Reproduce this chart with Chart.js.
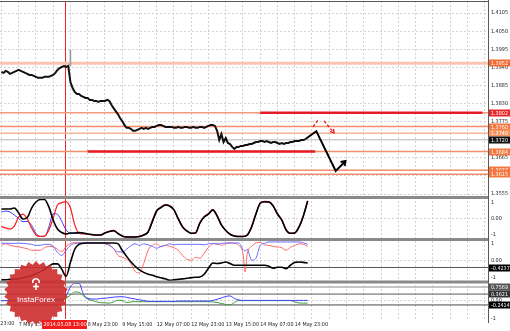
<!DOCTYPE html>
<html><head><meta charset="utf-8">
<script src="https://cdn.jsdelivr.net/npm/chart.js@4.4.1/dist/chart.umd.min.js"></script>
<style>html,body{margin:0;padding:0;background:#fff;overflow:hidden}#wrap{position:relative;width:510px;height:331px}</style>
</head><body><div id="wrap"><canvas id="c" width="510" height="331"></canvas></div>
<script>
// ---------- DATA ----------
const tickBars = [-8, 8, 24, 40, 56, 72, 88, 104, 120, 136];
const tickLabels = ['6 May 23:00', '7 May 15:00', '8 May 07:00', '8 May 23:00', '9 May 15:00', '12 May 07:00', '12 May 23:00', '13 May 15:00', '14 May 07:00', '14 May 23:00'];
const gridBars = [0, 8, 16, 24, 32, 40, 48, 56, 64, 72, 80, 88, 96, 104, 112, 120, 128, 136, 144, 152, 160, 168, 176, 184, 192, 200, 208, 216, 224];
const markerBar = 30;
const markerLabel = '2014.05.08 13:00';
const priceTicks = [1.3555, 1.3610, 1.3665, 1.3720, 1.3775, 1.3830, 1.3885, 1.3940, 1.3995, 1.4050, 1.4105];

const priceClose = [
 1.3926,1.3923,1.3929,1.3926,1.3920,1.3923,1.3926,1.3929,1.3932,
 1.3929,1.3926,1.3923,1.3920,1.3917,1.3917,1.3914,1.3911,1.3908,1.3908,1.3908,1.3911,
 1.3911,1.3911,1.3914,1.3917,1.3923,1.3932,1.3938,1.3941,1.3944,1.3941,1.3944,
 1.3895,
 1.3877,1.3865,1.3859,1.3859,1.3853,1.3850,1.3847,1.3847,1.3841,1.3841,1.3838,1.3838,1.3835,1.3838,1.3838,1.3838,1.3841,1.3838,
 1.3826,1.3816,1.3807,1.3798,1.3786,1.3777,1.3765,1.3756,
 1.3756,1.3753,1.3747,1.3747,1.3750,1.3753,1.3756,1.3753,1.3756,1.3753,1.3756,1.3759,1.3759,1.3762,1.3765,1.3765,1.3762,1.3759,1.3759,1.3759,
 1.3759,1.3756,1.3756,1.3759,1.3756,1.3756,1.3759,1.3759,1.3756,1.3756,1.3759,1.3756,1.3756,1.3759,1.3759,1.3756,1.3759,1.3762,1.3765,1.3765,1.3762,
 1.3747,1.3719,1.3737,1.3713,1.3725,1.3710,1.3707,1.3698,1.3692,
 1.3698,1.3698,1.3701,1.3701,1.3704,1.3704,1.3707,1.3707,1.3710,1.3713,1.3713,1.3716,1.3716,1.3713,1.3716,1.3713,1.3710,1.3713,1.3713,1.3710,1.3707,1.3710,1.3707,1.3710,1.3710,1.3713,1.3713,1.3716,1.3716,1.3716,1.3719,1.3719,1.3722
];
const wickBars = [32, 32];
const wickValues = [1.3944, 1.3993];

const forecastBars = [141, 146, 155, 159.5];
const forecastValues = [1.3722, 1.3746, 1.3625, 1.3655];
const hintUpBars = [144.5, 146.8];
const hintUpValues = [1.3759, 1.3780];
const hintDownBars = [149.6, 154.2];
const hintDownValues = [1.3777, 1.3741];

const levelValues = [1.3952, 1.3802, 1.3760, 1.3740, 1.3720, 1.3684, 1.3627, 1.3615];
const redLevelValues = [1.3802, 1.3684];
const redLevelFrom = [120, 40];
const redLevelTo = [223, 145.5];

const oscBars = [0,2,4,6,8,10,12,14,16,18,20,22,24,26,28,30,32,34,36,38,40,42,44,46,48,50,52,54,56,58,60,62,64,66,68,70,72,74,76,78,80,82,84,86,88,90,92,94,96,98,100,102,104,106,108,110,112,114,116,118,120,122,124,126,128,130,132,134,136,138,140,142];
const osc1Black = [0.59,0.59,0.59,0.65,0.34,-0.04,0.05,0.65,1.03,1.19,
 1.19,0.72,-0.11,-0.68,-0.90,-0.99,-0.93,-0.93,-0.91,-0.93,
 -0.99,-1.03,-1.06,-1.06,-0.93,-0.84,-0.78,-0.96,-1.12,-1.18,
 -1.18,-1.18,-1.15,-1.06,-0.87,-0.20,0.46,0.68,0.84,0.78,
 0.53,-0.04,-0.55,-0.80,-0.95,-0.93,-0.30,0.08,0.27,0.53,
 0.15,-0.42,-0.77,-1.01,-1.12,-1.15,-1.15,-1.06,-0.55,0.27,
 0.95,1.05,1.03,0.78,0.27,-0.11,-0.74,-0.95,-0.93,-0.55,
 0.15,1.10];
const osc1Red = [-0.53,-0.61,-0.68,-0.49,0.08,0.27,-0.04,-0.61,-1.06,-1.15,
 -1.12,-0.74,0.02,0.84,0.99,1.05,0.65,-0.42,-0.96,-0.99,
 -1.01,-1.04,-1.07,-1.06,-0.92,-0.82,-0.76,-0.95,-1.12,-1.18,
 -1.18,-1.17,-1.14,-1.05,-0.85,-0.12,0.50,0.71,0.86,0.80,
 0.55,0.00,-0.52,-0.79,-0.95,-0.92,-0.28,0.10,0.30,0.55,
 0.18,-0.40,-0.76,-1.00,-1.12,-1.15,-1.14,-1.04,-0.50,0.30,
 0.97,1.07,1.05,0.80,0.30,-0.08,-0.72,-0.95,-0.92,-0.52,
 0.18,1.12];
const osc1Blue = [0.40,0.45,0.40,0.20,0.00,-0.21,-0.20,-0.45,-0.95,-1.15,
 -1.15,-0.55,0.30,0.25,-0.20,-0.74,-0.93,-0.95,-0.93,-0.95,
 -1.00,-1.04,-1.06,-1.07,-0.94,-0.84,-0.79,-0.97,-1.13,-1.18,
 -1.19,-1.18,-1.16,-1.08,-0.89,-0.25,0.44,0.66,0.82,0.77,
 0.50,-0.06,-0.58,-0.82,-0.96,-0.94,-0.33,0.06,0.24,0.50,
 0.12,-0.45,-0.79,-1.03,-1.13,-1.16,-1.16,-1.08,-0.58,0.24,
 0.93,1.03,1.01,0.76,0.24,-0.14,-0.76,-0.96,-0.95,-0.58,
 0.12,1.08];

const osc2Bars = [0,2,4,6,8,10,12,14,16,18,20,22,24,26,28,30,32,34,36,38,40,42,44,46,48,50,52,54,56,58,60,62,64,66,68,70,72,74,76,78,80,82,84,86,88,90,92,94,96,98,100,102,104,106,108,110,112,113,114,116,118,120,122,124,126,128,130,132,134,136,138,140,142];
const osc2Red = [0.88,0.97,0.88,0.82,0.79,0.74,0.68,0.59,0.59,0.59,
 0.74,0.82,0.79,0.65,0.50,0.82,0.98,1.04,1.04,1.03,
 1.02,1.02,1.02,1.02,1.02,0.94,0.69,0.29,0.18,0.06,
 -0.18,-0.65,-0.74,-0.18,0.59,0.88,0.97,0.79,0.88,0.82,
 0.74,0.59,0.29,0.06,0.00,0.18,0.12,0.41,0.76,0.97,
 1.00,0.88,0.97,1.02,1.00,0.88,
 0.41,-0.69,0.41,
 0.82,1.02,1.06,0.91,0.88,0.82,0.78,0.74,0.59,0.76,0.88,0.97,0.94,0.82];
const osc2Blue = [1.0,1.0,1.0,1.0,1.0,1.0,0.97,0.94,0.88,0.88,
 0.94,0.94,0.82,0.47,0.29,0.59,0.88,0.98,1.02,1.02,
 1.02,1.02,1.02,1.02,0.97,0.88,0.69,0.50,0.49,0.65,
 0.85,0.97,0.88,0.97,0.91,0.82,0.71,0.82,0.88,0.97,
 0.91,0.94,0.94,0.94,0.94,0.94,0.94,0.91,0.97,1.00,
 0.94,1.00,1.02,1.02,1.02,1.02,
 0.65,0.55,0.65,
 0.0,0.12,0.88,1.0,1.08,1.08,1.08,1.08,1.08,1.08,1.08,1.08,1.03,0.94];
const osc2Black = [-1.15,-1.15,-1.12,-1.10,-1.08,-1.03,-0.97,-0.91,-0.79,-0.68,
 -0.53,-0.35,-0.21,-0.21,-0.53,-0.94,-0.12,0.65,0.94,1.0,
 1.02,1.02,1.02,1.02,1.02,1.02,1.02,0.98,0.59,0.24,
 -0.09,-0.35,-0.56,-0.71,-0.82,-0.88,-0.97,-1.03,-1.09,-1.18,
 -1.15,-1.12,-1.09,-1.06,-1.02,-1.0,-0.98,-0.82,-0.47,-0.16,
 -0.19,-0.16,-0.10,-0.19,-0.29,-0.29,
 -0.29,-0.29,-0.29,
 -0.29,-0.29,-0.29,-0.29,-0.35,-0.47,-0.41,-0.41,-0.49,-0.29,-0.12,-0.10,-0.12,-0.16];
const osc2Levels = [-0.4237];

const osc3Blue = [0,0,0,0,0,0,0,0,0,0,
 0.08,0.08,0.08,0.08,0.08,0.26,0.76,0.96,0.96,0.37,
 0.13,0.09,0.08,0.12,0.13,0.16,0.19,0.21,0.22,0.18,
 0.13,0.09,0.04,0.01,-0.04,-0.04,-0.04,-0.04,-0.04,-0.04,
 -0.04,-0.02,-0.02,-0.02,-0.02,-0.02,-0.02,-0.02,-0.02,0.01,
 0.07,0.15,0.23,0.26,0.12,0.04,0.01,0.01,0.01,0.01,
 0.01,0.01,0.01,0.01,0.01,0.01,0.01,0.01,0.01,0.01,
 0.01,0.01];
const osc3Green = [0,0,0,0,0,0,0,0,0,0,
 0,0,0,0,0,0.13,0.30,0.48,0.46,0.26,
 0.08,0.01,-0.07,-0.11,-0.13,-0.14,-0.07,0.02,0.01,-0.11,
 -0.07,-0.06,-0.06,-0.06,-0.06,-0.06,-0.06,-0.06,-0.06,-0.06,
 -0.06,-0.06,-0.06,-0.06,-0.06,-0.06,-0.06,-0.06,-0.06,-0.07,
 -0.10,-0.16,-0.21,-0.24,-0.10,0,0,0,0,0,
 0,0,0,0,0,0,0,0,-0.07,-0.13,
 -0.14,-0.14];
const osc3Levels = [0.7569, 0.3621, -0.2414];

// ---------- STYLE ----------
const X_MIN = -0.65, X_MAX = 225.6;
const FONT = "'DejaVu Sans Condensed', 'DejaVu Sans', sans-serif";
const FS = 5.4;
Chart.defaults.font.family = FONT;
Chart.defaults.font.size = FS;
Chart.defaults.color = '#222';
const levelStyle = [
  {c:'#f9c5b0', w:3, bg:'#f46a35'},
  {c:'#f49a7c', w:1.5, bg:'#e9262a'},
  {c:'#f48e6a', w:1.5, bg:'#f4763e'},
  {c:'#f8b496', w:1.5, bg:'#f7935c'},
  {c:'#cfcfcf', w:1.5, bg:'#111111'},
  {c:'#f48e6a', w:1.5, bg:'#f4763e'},
  {c:'#f48e6a', w:1.5, bg:'#f4763e'},
  {c:'#f48e6a', w:1.5, bg:'#f4763e'}
];
const osc3Style = [{c:'#c4c4c4', w:2, bg:'#555'}, {c:'#5a5a5a', w:1, bg:'#333'}, {c:'#4a4a4a', w:1, bg:'#000'}];

const pts = (xs, ys) => xs.map((x, i) => ({x, y: ys[i]}));
const line = (data, yAxisID, color, width, extra) => Object.assign({
  type:'line', data, yAxisID, borderColor: color, borderWidth: width, pointRadius: 0,
  fill: false, tension: 0, spanGaps: true
}, extra || {});

const datasets = [];
datasets.push(line(pts(oscBars, osc1Black), 'y1', '#000', 1.6, {cubicInterpolationMode:'monotone'}));
datasets.push(line(pts(oscBars, osc1Red), 'y1', '#ff1a1a', 1.2, {cubicInterpolationMode:'monotone'}));
datasets.push(line(pts(oscBars, osc1Blue), 'y1', '#3b3bff', 1, {cubicInterpolationMode:'monotone'}));
datasets.push(line(pts(osc2Bars, osc2Black), 'y2', '#000', 1.6, {cubicInterpolationMode:'monotone'}));
datasets.push(line(pts(osc2Bars, osc2Blue), 'y2', '#6a6aff', 1, {cubicInterpolationMode:'monotone'}));
datasets.push(line(pts(osc2Bars, osc2Red), 'y2', '#ff6a6a', 1, {cubicInterpolationMode:'monotone'}));
osc2Levels.forEach(v => datasets.push(line([{x:X_MIN,y:v},{x:X_MAX,y:v}], 'y2', '#555', 1)));
datasets.push(line(pts(oscBars, osc3Blue), 'y3', '#4040ff', 1, {cubicInterpolationMode:'monotone'}));
datasets.push(line(pts(oscBars, osc3Green), 'y3', '#3a9a3a', 1, {cubicInterpolationMode:'monotone'}));
osc3Levels.forEach((v, i) => datasets.push(line([{x:X_MIN,y:v},{x:X_MAX,y:v}], 'y3', osc3Style[i].c, osc3Style[i].w)));
datasets.push(line(priceClose.map((v, i) => ({x:i, y:v})), 'yP', '#111', 2));
datasets.push(line(pts(wickBars, wickValues), 'yP', '#9a9a9a', 1.6));
const FORECAST_INDEX = datasets.length;
datasets.push(line(pts(forecastBars, forecastValues), 'yP', '#000', 2, {borderJoinStyle:'miter'}));
datasets.push(line(pts(hintUpBars, hintUpValues), 'yP', '#f01818', 1.3, {borderDash:[3,2]}));
const HINT_DOWN_INDEX = datasets.length;
datasets.push(line(pts(hintDownBars, hintDownValues), 'yP', '#f01818', 1.3, {borderDash:[3,2]}));
redLevelValues.forEach((v, i) => datasets.push(line([{x:redLevelFrom[i],y:v},{x:redLevelTo[i],y:v}], 'yP', '#e41c24', 2.5)));
levelValues.forEach((v, i) => datasets.push(line([{x:X_MIN,y:v},{x:X_MAX,y:v}], 'yP', levelStyle[i].c, levelStyle[i].w)));

function yScale(weight, min, max, ticksArr, fmt, gridAll) {
  return {
    type:'linear', position:'right', stack:'panes', stackWeight: weight, min, max, offset:false,
    afterBuildTicks: s => { s.ticks = ticksArr.map(v => ({value: v})); },
    afterFit: s => { s.width = 22; s.paddingTop = 0; s.paddingBottom = 0; },
    ticks: { padding: 3, color:'#222', autoSkip:false, callback: fmt },
    grid: { drawTicks:false, lineWidth:1, color: ctx => (gridAll || (ctx.tick && ctx.tick.value === 0)) ? '#d2d2d2' : 'rgba(0,0,0,0)' },
    border: { display:false, dash:[2,2] }
  };
}
const intFmt = v => v === 0 ? '0.00' : String(v);

function drawTag(ctx, scale, value, text, bg, fg) {
  const y = Math.round(scale.getPixelForValue(value));
  ctx.fillStyle = bg;
  ctx.fillRect(489, y - 3.5, 21, 7);
  ctx.fillStyle = fg || '#fff';
  ctx.font = FS + 'px ' + FONT;
  ctx.textBaseline = 'middle';
  ctx.textAlign = 'left';
  ctx.fillText(text, 491, y + 0.5);
}
function arrowHead(ctx, x1, y1, x2, y2, len, color, width) {
  const a = Math.atan2(y2 - y1, x2 - x1);
  ctx.save(); ctx.strokeStyle = color; ctx.lineWidth = width; ctx.setLineDash([]);
  ctx.beginPath();
  ctx.moveTo(x2 - len * Math.cos(a - 0.6), y2 - len * Math.sin(a - 0.6));
  ctx.lineTo(x2, y2);
  ctx.lineTo(x2 - len * Math.cos(a + 0.6), y2 - len * Math.sin(a + 0.6));
  ctx.stroke(); ctx.restore();
}

const decor = {
  id:'decor',
  beforeDatasetsDraw(chart) {
    const {ctx, chartArea:a, scales} = chart;
    const x = Math.floor(scales.x.getPixelForValue(markerBar)) - 0.5;
    ctx.save(); ctx.strokeStyle = '#f02424'; ctx.lineWidth = 1;
    ctx.beginPath(); ctx.moveTo(x, a.top); ctx.lineTo(x, a.bottom); ctx.stroke(); ctx.restore();
  },
  afterDatasetsDraw(chart) {
    const {ctx} = chart;
    const m = chart.getDatasetMeta(FORECAST_INDEX).data;
    const p1 = m[m.length - 2], p2 = m[m.length - 1];
    arrowHead(ctx, p1.x, p1.y, p2.x, p2.y, 5, '#000', 2);
    const h = chart.getDatasetMeta(HINT_DOWN_INDEX).data;
    arrowHead(ctx, h[0].x, h[0].y, h[1].x, h[1].y, 4, '#f01818', 1.3);
  },
  afterDraw(chart) {
    const {ctx, chartArea:a, scales} = chart;
    ctx.save();
    ctx.font = FS + 'px ' + FONT; ctx.fillStyle = '#222'; ctx.textAlign = 'left'; ctx.textBaseline = 'top';
    tickBars.forEach((b, k) => { if (b < X_MIN) ctx.fillText(tickLabels[k], scales.x.getPixelForValue(b), a.bottom + 2); });
    ctx.strokeStyle = '#8a8a8a'; ctx.lineWidth = 3;
    [scales.yP.bottom, scales.y1.bottom, scales.y2.bottom].forEach(y => {
      ctx.beginPath(); ctx.moveTo(0, y); ctx.lineTo(a.right, y); ctx.stroke();
    });
    ctx.strokeStyle = '#5a5a5a'; ctx.lineWidth = 1;
    ctx.beginPath(); ctx.moveTo(0, a.top + 0.5); ctx.lineTo(a.right, a.top + 0.5); ctx.stroke();
    ctx.beginPath(); ctx.moveTo(a.right + 0.5, 0); ctx.lineTo(a.right + 0.5, a.bottom + 4); ctx.stroke();
    levelValues.forEach((v, i) => drawTag(ctx, scales.yP, v, v.toFixed(4), levelStyle[i].bg));
    osc2Levels.forEach(v => drawTag(ctx, scales.y2, v, v.toFixed(4), '#000'));
    osc3Levels.forEach((v, i) => drawTag(ctx, scales.y3, v, v.toFixed(4), osc3Style[i].bg));
    // logo
    const cx = 36, cy = 293, R = 32, r = 28.5, N = 26;
    ctx.beginPath();
    for (let k = 0; k < 2 * N; k++) {
      const ang = k * Math.PI / N - Math.PI / 2;
      const rr = k % 2 === 0 ? R : r;
      const px = cx + rr * Math.cos(ang), py = cy + rr * Math.sin(ang);
      k === 0 ? ctx.moveTo(px, py) : ctx.lineTo(px, py);
    }
    ctx.closePath();
    ctx.fillStyle = 'rgba(204,44,44,0.9)'; ctx.fill();
    ctx.strokeStyle = '#fff'; ctx.fillStyle = '#fff'; ctx.lineWidth = 1.6;
    ctx.beginPath(); ctx.arc(cx, cy - 11, 3.2, Math.PI * 0.9, Math.PI * 2.1); ctx.stroke();
    ctx.beginPath(); ctx.moveTo(cx, cy - 10); ctx.lineTo(cx, cy - 3); ctx.stroke();
    ctx.beginPath(); ctx.moveTo(cx - 3, cy - 6.5); ctx.lineTo(cx + 3, cy - 6.5); ctx.stroke();
    ctx.font = '8px "Liberation Sans", Arial, sans-serif';
    ctx.textAlign = 'center'; ctx.textBaseline = 'middle';
    ctx.fillText('InstaForex', cx, cy + 7);
    // marker date label
    const mx = scales.x.getPixelForValue(markerBar) - 1;
    ctx.font = FS + 'px ' + FONT;
    const tw = ctx.measureText(markerLabel).width;
    ctx.fillStyle = '#f01c1c';
    ctx.fillRect(Math.round(mx - tw / 2 - 1), 320, Math.round(tw + 2), 9);
    ctx.fillStyle = '#fff'; ctx.textAlign = 'center'; ctx.textBaseline = 'middle';
    ctx.fillText(markerLabel, mx, 324.8);
    ctx.restore();
  }
};

new Chart(document.getElementById('c'), {
  type:'line',
  data:{ datasets },
  options:{
    responsive:false, animation:false, devicePixelRatio:1,
    layout:{ padding:{ top:1, left:0, right:0, bottom:0 } },
    plugins:{ legend:{display:false}, tooltip:{enabled:false}, title:{display:false} },
    scales:{
      x:{
        type:'linear', position:'bottom', min:X_MIN, max:X_MAX, offset:false,
        afterBuildTicks: s => { s.ticks = gridBars.map(v => ({value:v})); },
        afterFit: s => { s.height = 12; s.paddingLeft = 0; s.paddingRight = 0; },
        ticks:{ autoSkip:false, maxRotation:0, minRotation:0, align:'start', padding:2, color:'#222',
          callback: v => { const k = tickBars.indexOf(v); return k >= 0 ? tickLabels[k] : ''; } },
        grid:{ drawTicks:false, color:'#d2d2d2', lineWidth:1 },
        border:{ display:false, dash:[2,2] }
      },
      yP: yScale(196.5, 1.35444, 1.41415, priceTicks, v => v.toFixed(4), true),
      y1: yScale(42, -1.342, 1.316, [1, 0, -1], intFmt, false),
      y2: yScale(42.5, -1.276, 1.224, [1, 0, -1], intFmt, false),
      y3: yScale(37, -1.022, 1.033, [0, -1], intFmt, false)
    }
  },
  plugins:[decor]
});
</script></body></html>
